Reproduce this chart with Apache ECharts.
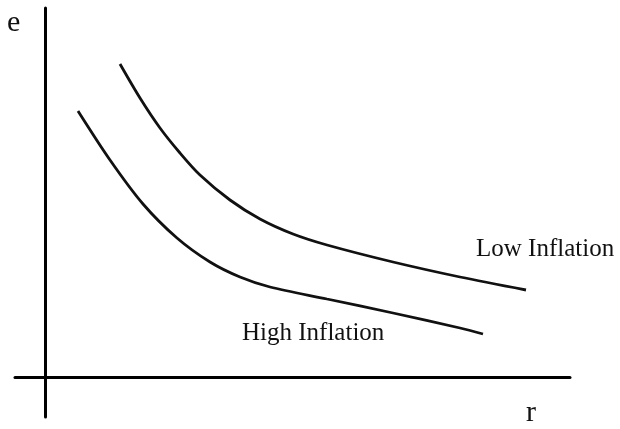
<!DOCTYPE html>
<head>
    <meta charset="utf-8">
    <title>e vs r</title>
    <script src="https://cdn.jsdelivr.net/npm/echarts@6/dist/echarts.min.js"></script>
</head>
<body style="margin:0">
<div id="main" style="width:620px;height:429px"></div>
<script type="text/javascript">
    // curve points: [r, e]
    var lowInflation = [[7.5, 31.3], [9.5, 27.9], [11.5, 24.9], [13.5, 22.4], [15.5, 20.2],
        [18.5, 17.7], [21.5, 15.8], [24.8, 14.3], [28.2, 13.2], [34.8, 11.5],
        [41.5, 10.0], [48.1, 8.7]];
    var highInflation = [[3.3, 26.6], [6.5, 21.7], [9.8, 17.3], [13.2, 13.9], [16.5, 11.5],
        [19.5, 10.0], [22.5, 9.0], [28.2, 7.8], [34.8, 6.4], [41.5, 4.9], [43.8, 4.3]];
    var seriesNames = ['Low Inflation', 'High Inflation'];
    var axisNames = ['r', 'e'];

    var myChart = echarts.init(document.getElementById('main'));
    var font = '"Liberation Serif", "Times New Roman", serif';

    var option = {
        animation: false,
        backgroundColor: '#fff',
        grid: {left: 15, right: 50, top: 8, bottom: 12},
        xAxis: {
            type: 'value', min: -3, max: 52.5,
            axisLine: {onZero: true, lineStyle: {color: '#000', width: 3}},
            axisTick: {show: false}, axisLabel: {show: false}, splitLine: {show: false}
        },
        yAxis: {
            type: 'value', min: -4, max: 36.9,
            axisLine: {onZero: true, lineStyle: {color: '#000', width: 3}},
            axisTick: {show: false}, axisLabel: {show: false}, splitLine: {show: false}
        },
        series: [
            {
                name: seriesNames[0], type: 'line', smooth: 0.3, symbol: 'none',
                lineStyle: {color: '#111', width: 2.8},
                data: lowInflation
            },
            {
                name: seriesNames[1], type: 'line', smooth: 0.3, symbol: 'none',
                lineStyle: {color: '#111', width: 2.8},
                data: highInflation
            }
        ],
        graphic: [
            {type: 'text', left: 7, top: 8, style: {text: axisNames[1], font: '30px ' + font, fill: '#111'}},
            {type: 'text', left: 526, top: 398, style: {text: axisNames[0], font: '30px ' + font, fill: '#111'}},
            {type: 'text', left: 476, top: 237, style: {text: seriesNames[0], font: '25px ' + font, fill: '#111'}},
            {type: 'text', left: 242, top: 321, style: {text: seriesNames[1], font: '25px ' + font, fill: '#111'}}
        ]
    };
    myChart.setOption(option);
</script>
</body>
